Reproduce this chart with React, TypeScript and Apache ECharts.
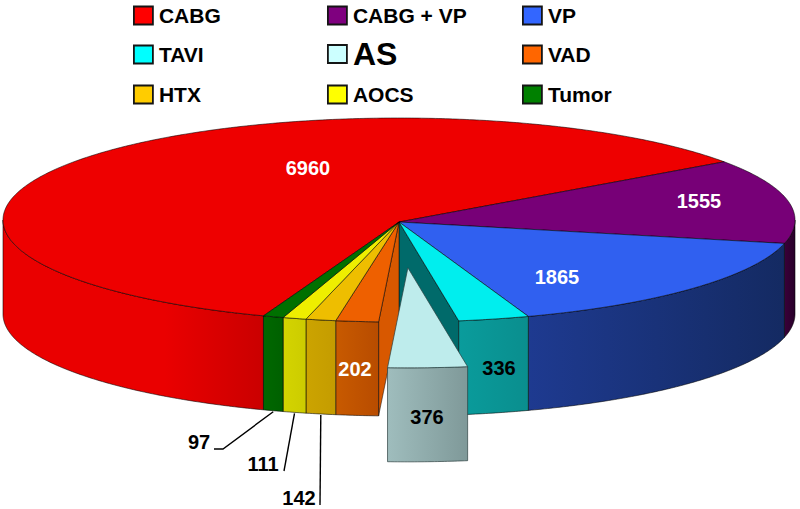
import React, { useEffect, useRef } from "react";
import * as echarts from "echarts";

const categories = ["CABG", "CABG + VP", "VP", "TAVI", "AS", "VAD", "HTX", "AOCS", "Tumor"];
const values = [6960, 1555, 1865, 336, 376, 202, 142, 111, 97];

const legendColors = ["#FF0000", "#7F007F", "#3366FF", "#00FFFF", "#CCFFFF", "#FF6600", "#FFCC00", "#FFFF00", "#008000"];
const topColors = ["#EE0000", "#770077", "#3060F0", "#00EEEE", "#BEECEC", "#EE6000", "#EEBE00", "#EEEE00", "#007000"];
const sideFrom = ["#EA0000", "#3A0038", "#1E3A90", "#0A9C9C", "#9FBDBD", "#C85A00", "#CCA400", "#D4D400", "#006800"];
const sideTo = ["#CA0000", "#28002A", "#142A62", "#0A8E8E", "#7F9999", "#B84C00", "#C49C00", "#CCCC00", "#006000"];
const wallColors = ["#EE0000", "#770077", "#3060F0", "#006A6A", "#BEECEC", "#D85800", "#EEBE00", "#EEEE00", "#007000"];
const valueColors = ["#fff", "#fff", "#fff", "#000", "#000", "#fff", "#000", "#000", "#000"];

const FONT = "'Liberation Sans', Arial, sans-serif";
const CX = 399, CY = 220, RX = 396, RY = 102, DEPTH = 94;
const START_DEG = -34.8;
const EXPLODED = 4;
const EXPLODE = 0.45;

// Where each value's text sits, and the leader line's far end for the small slices.
const labelAt: number[][] = [[308, 168], [699, 201], [557, 277], [499, 368], [427, 417], [355, 369], [299, 498], [263, 464], [199, 442]];
const leaderEnd: (number[][] | null)[] = [null, null, null, null, null, null, [[320, 505]], [[284, 471]], [[223, 449], [214, 449]]];
const legendPos: number[][] = [[133, 0], [327, 0], [522, 0], [133, 1], [327, 1], [522, 1], [133, 2], [327, 2], [522, 2]];
const legendRowTop = [5, 44, 84];

const total = values.reduce((a, b) => a + b, 0);
const rad = (d: number) => (d * Math.PI) / 180;

function sliceAngles(i: number) {
  // Clockwise from the CABG / CABG + VP border; CABG itself closes the circle.
  if (i === 0) return [START_DEG - (360 * values[0]) / total, START_DEG];
  const before = values.slice(1, i).reduce((a, b) => a + b, 0);
  const s = START_DEG + (360 * before) / total;
  return [s, s + (360 * values[i]) / total];
}

function rim(a: number, dx = 0, dy = 0, dz = 0) {
  return [CX + dx + RX * Math.cos(rad(a)), CY + dy + dz + RY * Math.sin(rad(a))];
}

function arcPoints(a0: number, a1: number, dx = 0, dy = 0, dz = 0) {
  const n = Math.max(2, Math.ceil(Math.abs(a1 - a0) * 2));
  const pts: number[][] = [];
  for (let k = 0; k <= n; k++) pts.push(rim(a0 + ((a1 - a0) * k) / n, dx, dy, dz));
  return pts;
}

function makeRenderItem(i: number) {
  return (_params: any, api: any) => {
    const shown = api.value(0);
    const [a0, a1] = sliceAngles(i);
    const mid = (a0 + a1) / 2;
    const off = i === EXPLODED ? EXPLODE : 0;
    const dx = off * RX * Math.cos(rad(mid));
    const dy = off * RY * Math.sin(rad(mid));
    const over = i === EXPLODED ? 10 : 0;
    const children: any[] = [];
    const edge = i === EXPLODED ? "rgba(40,60,60,0.85)" : "rgba(0,0,0,0.7)";

    // Radial inner walls uncovered by the exploded slice
    const wallAt = i === EXPLODED - 1 ? a1 : i === EXPLODED + 1 ? a0 : null;
    if (wallAt !== null) {
      children.push({
        type: "polygon",
        z2: 1,
        shape: { points: [[CX, CY + 2], rim(wallAt), rim(wallAt, 0, 0, DEPTH), [CX, CY + 2 + DEPTH]] },
        style: { fill: wallColors[i], stroke: edge, lineWidth: 0.7 },
      });
    }

    // Front-facing cylinder wall (angles may run below 0 or past 180)
    const seg: number[][] = [];
    if (Math.min(a1, 180) > Math.max(a0, 0)) seg.push([Math.max(a0, 0), Math.min(a1, 180)]);
    if (a0 + 360 < 180) seg.push([a0 + 360, Math.min(a1 + 360, 180)]);
    seg.forEach(([b0, b1]) => {
      const upper = arcPoints(b0, b1, dx, dy);
      const lower = arcPoints(b1, b0, dx, dy, DEPTH);
      const xs = upper.map((p) => p[0]);
      const x0 = Math.min(...xs), x1 = Math.max(...xs);
      children.push({
        type: "polygon",
        z2: 2 + over,
        shape: { points: upper.concat(lower) },
        style: {
          fill: new echarts.graphic.LinearGradient(x0, 0, x1, 0, i === 0
            ? [{ offset: 0, color: sideFrom[0] }, { offset: 0.62, color: sideFrom[0] }, { offset: 1, color: sideTo[0] }]
            : [{ offset: 0, color: sideFrom[i] }, { offset: 1, color: sideTo[i] }], true),
          stroke: edge,
          lineWidth: 0.8,
        },
      });
    });

    // Top face
    const apex = [CX + dx, CY + 2 + dy];
    children.push({
      type: "polygon",
      z2: 3 + over,
      shape: { points: [apex].concat(arcPoints(a0, a1, dx, dy)) },
      style: { fill: topColors[i], stroke: edge, lineWidth: 0.8 },
    });

    // Leader line for the thin slices
    const leader = leaderEnd[i];
    if (leader) {
      children.push({
        type: "polyline",
        z2: 20,
        shape: { points: [rim(mid, 0, 0, DEPTH + 1)].concat(leader) },
        style: { fill: "none", stroke: "#000", lineWidth: 1.4 },
      });
    }

    // Value label
    children.push({
      type: "text",
      z2: 30,
      style: {
        text: String(shown),
        x: labelAt[i][0],
        y: labelAt[i][1],
        align: "center",
        verticalAlign: "middle",
        fontFamily: FONT,
        fontWeight: "bold",
        fontSize: 20,
        fill: valueColors[i],
      },
    });

    return { type: "group", children };
  };
}

export default function App() {
  const ref = useRef<HTMLDivElement>(null);

  useEffect(() => {
    document.body.style.margin = "0";
    const chart = echarts.init(ref.current!, undefined, { renderer: "svg" });
    chart.setOption({
      animation: false,
      backgroundColor: "#ffffff",
      legend: categories.map((name, i) => ({
        left: legendPos[i][0],
        top: name === "AS" ? legendRowTop[legendPos[i][1]] - 6 : legendRowTop[legendPos[i][1]],
        padding: 0,
        itemWidth: 19,
        itemHeight: 18,
        itemGap: 0,
        selectedMode: false,
        itemStyle: { borderColor: "#151515", borderWidth: 1.8 },
        textStyle: {
          fontFamily: FONT,
          fontWeight: "bold",
          fontSize: name === "AS" ? 32 : 21,
          color: "#000",
          padding: [0, 0, 0, 1],
        },
        data: [{ name, icon: "rect" }],
      })),
      series: categories.map((name, i) => ({
        type: "custom",
        name,
        coordinateSystem: "none",
        silent: true,
        clip: false,
        itemStyle: { color: legendColors[i] },
        renderItem: makeRenderItem(i),
        data: [[values[i]]],
      })),
    });
    return () => chart.dispose();
  }, []);

  return <div ref={ref} style={{ width: 800, height: 509, position: "absolute", left: 0, top: 0 }} />;
}
